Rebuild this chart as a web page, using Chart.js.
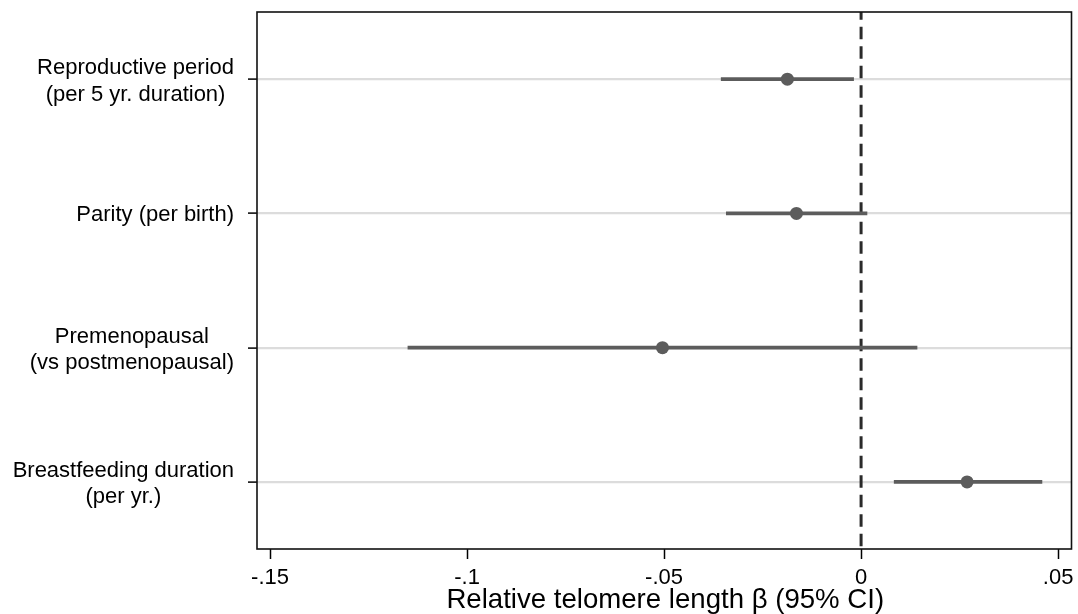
<!DOCTYPE html>
<html>
<head>
<meta charset="utf-8">
<script src="https://cdn.jsdelivr.net/npm/chart.js@4"></script>
<style>
  html, body { margin: 0; padding: 0; background: #fff; }
  #wrap { width: 1078px; height: 614px; }
</style>
</head>
<body>
<div id="wrap"><canvas id="c" width="1078" height="614"></canvas></div>
<script>
const labels = [
  ["Reproductive period", "(per 5 yr. duration)"],
  ["Parity (per birth)"],
  ["Premenopausal", "(vs postmenopausal)"],
  ["Breastfeeding duration", "(per yr.)"],
];
const est = [-0.0187, -0.0164, -0.0504, 0.0269];
const lo  = [-0.0355, -0.0342, -0.1150, 0.0084];
const hi  = [-0.0019,  0.0015,  0.0142, 0.0459];
const xTicks = [-0.15, -0.1, -0.05, 0, 0.05];
const xTickLabels = ["-.15", "-.1", "-.05", "0", ".05"];
const xTitle = "Relative telomere length β (95% CI)";

const FONT = "'Liberation Sans', Arial, sans-serif";
const gray = "#5c5c5c";

function text(ctx, txt, x, y, size, align) {
  ctx.save();
  ctx.font = size + "px " + FONT;
  ctx.textAlign = align;
  ctx.textBaseline = "alphabetic";
  ctx.fillStyle = "#000";
  ctx.fillText(txt, x, y);
  ctx.restore();
}

const framePlugin = {
  id: "frame",
  beforeDatasetsDraw(chart) {
    const {ctx, chartArea: a, scales: {x}} = chart;
    const zx = x.getPixelForValue(0);
    ctx.save();
    ctx.strokeStyle = "#2a2a2a";
    ctx.lineWidth = 3;
    ctx.setLineDash([12.5, 7]);
    ctx.lineDashOffset = 4.8;
    ctx.beginPath();
    ctx.moveTo(zx, a.top);
    ctx.lineTo(zx, a.bottom);
    ctx.stroke();
    ctx.restore();
  },
  afterDraw(chart) {
    const {ctx, chartArea: a, scales: {x, y}} = chart;
    ctx.save();
    ctx.strokeStyle = "#111";
    ctx.lineWidth = 1.6;
    ctx.strokeRect(a.left, a.top, a.right - a.left, a.bottom - a.top);
    ctx.restore();

    // y labels: block right-aligned, lines centred inside the block
    const ySize = 22, right = 234;
    ctx.font = ySize + "px " + FONT;
    labels.forEach((lines, i) => {
      const py = y.getPixelForTick(i);
      const bw = Math.max(...lines.map(t => ctx.measureText(t).width));
      const cx = right - bw / 2;
      const base = lines.length === 1 ? [py + 8] : [py - 5, py + 21.5];
      lines.forEach((t, k) => text(ctx, t, cx, base[k], ySize, "center"));
    });

    xTicks.forEach((v, i) => text(ctx, xTickLabels[i], x.getPixelForValue(v), 584, 22, "center"));
    text(ctx, xTitle, (a.left + a.right) / 2 + 1, 608, 27.6, "center");
  }
};

new Chart(document.getElementById("c"), {
  data: {
    labels: labels.map(l => l.join(" ")),
    datasets: [
      {type: "line", data: est, showLine: false, pointRadius: 6.5, pointHoverRadius: 6.5,
       pointBackgroundColor: gray, pointBorderColor: gray, pointBorderWidth: 0, order: 0},
      {type: "bar", data: lo.map((l, i) => [l, hi[i]]), backgroundColor: gray,
       barThickness: 3, borderSkipped: false, order: 1},
    ],
  },
  options: {
    indexAxis: "y",
    responsive: false,
    animation: false,
    events: [],
    layout: {padding: {top: 12, right: 6, left: 0, bottom: 0}},
    plugins: {legend: {display: false}, tooltip: {enabled: false}},
    scales: {
      x: {
        type: "linear", min: -0.1533, max: 0.0534,
        afterBuildTicks: s => { s.ticks = xTicks.map(v => ({value: v})); },
        afterFit: s => { s.height = 65; s.paddingLeft = 0; s.paddingRight = 0; },
        grid: {drawOnChartArea: false, drawTicks: true, tickLength: 10, tickColor: "#000", tickWidth: 1.5},
        border: {display: false},
        ticks: {display: false},
      },
      y: {
        type: "category", offset: true,
        afterFit: s => { s.width = 257; s.paddingTop = 0; s.paddingBottom = 0; },
        grid: {offset: false, color: "#dcdcdc", lineWidth: 2.2, drawTicks: true, tickLength: 9,
               tickColor: "#000", tickWidth: 1.5},
        border: {display: false},
        ticks: {display: false},
      },
    },
  },
  plugins: [framePlugin],
});
</script>
</body>
</html>
